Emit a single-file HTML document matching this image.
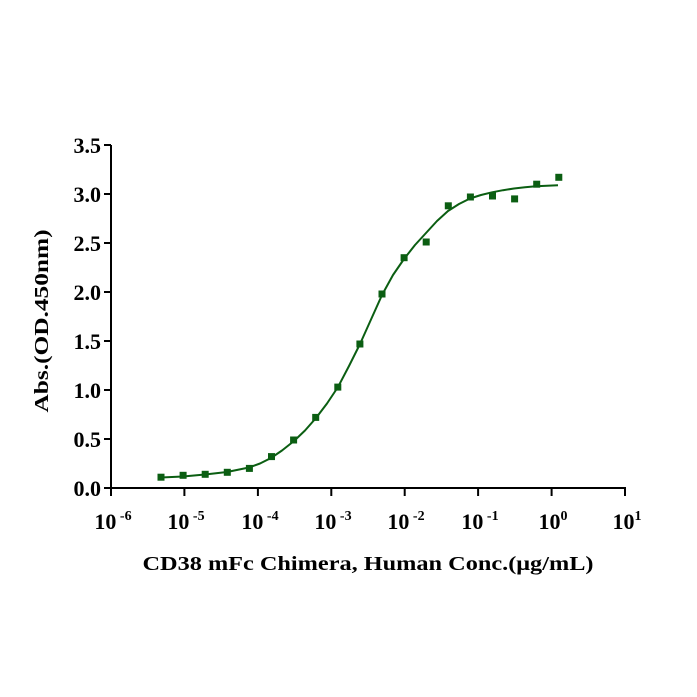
<!DOCTYPE html>
<html><head><meta charset="utf-8"><style>
html,body{margin:0;padding:0;background:#fff;}
svg{display:block;font-family:"Liberation Serif",serif;font-weight:bold;}
</style></head><body>
<svg width="697" height="697" viewBox="0 0 697 697" xmlns="http://www.w3.org/2000/svg">
<g stroke="#000" stroke-width="2" fill="none">
<line x1="111" y1="145" x2="111" y2="489"/>
<line x1="110" y1="488" x2="626" y2="488"/>
<line x1="104" y1="488" x2="111" y2="488"/>
<line x1="104" y1="439" x2="111" y2="439"/>
<line x1="104" y1="390" x2="111" y2="390"/>
<line x1="104" y1="341" x2="111" y2="341"/>
<line x1="104" y1="292" x2="111" y2="292"/>
<line x1="104" y1="243" x2="111" y2="243"/>
<line x1="104" y1="194" x2="111" y2="194"/>
<line x1="104" y1="145" x2="111" y2="145"/>
<line x1="111" y1="488" x2="111" y2="496"/>
<line x1="184.4" y1="488" x2="184.4" y2="496"/>
<line x1="257.9" y1="488" x2="257.9" y2="496"/>
<line x1="331.3" y1="488" x2="331.3" y2="496"/>
<line x1="404.7" y1="488" x2="404.7" y2="496"/>
<line x1="478.1" y1="488" x2="478.1" y2="496"/>
<line x1="551.6" y1="488" x2="551.6" y2="496"/>
<line x1="625" y1="488" x2="625" y2="496"/>
</g>
<g font-size="22" text-anchor="end">
<text x="101" y="496">0.0</text>
<text x="101" y="447">0.5</text>
<text x="101" y="398">1.0</text>
<text x="101" y="349">1.5</text>
<text x="101" y="300">2.0</text>
<text x="101" y="251">2.5</text>
<text x="101" y="202">3.0</text>
<text x="101" y="153">3.5</text>
</g>
<g font-size="22" text-anchor="middle">
<text x="113" y="529">10<tspan font-size="14" dy="-9"> -6</tspan></text>
<text x="186" y="529">10<tspan font-size="14" dy="-9"> -5</tspan></text>
<text x="260" y="529">10<tspan font-size="14" dy="-9"> -4</tspan></text>
<text x="333" y="529">10<tspan font-size="14" dy="-9"> -3</tspan></text>
<text x="406" y="529">10<tspan font-size="14" dy="-9"> -2</tspan></text>
<text x="480" y="529">10<tspan font-size="14" dy="-9"> -1</tspan></text>
<text x="553" y="529">10<tspan font-size="14" dy="-9">0</tspan></text>
<text x="627" y="529">10<tspan font-size="14" dy="-9">1</tspan></text>
</g>
<text x="368" y="570" font-size="20" text-anchor="middle" textLength="451" lengthAdjust="spacingAndGlyphs">CD38 mFc Chimera, Human Conc.(μg/mL)</text>
<text transform="translate(48,321) rotate(-90)" font-size="20" text-anchor="middle" textLength="183" lengthAdjust="spacingAndGlyphs">Abs.(OD.450nm)</text>
<polyline fill="none" stroke="#0b5e12" stroke-width="2" stroke-linejoin="round" points="161,477.5 183,476.5 205,474.5 227,472 249,467.5 260,463.5 271,458 282,450.5 294,441 305,430.5 316,418 327,403.5 338,387 349,366 360,344 371,319.5 382,295 393,275 404,259 415,245 426,233 437,221 448,211 459,204 470,198.5 481,195 492,192.3 503,190.2 514,188.5 525,187.3 536,186.3 547,185.7 558,185.2"/>
<g fill="#0b5e12">
<rect x="157.5" y="473.7" width="7" height="7"/>
<rect x="179.6" y="471.8" width="7" height="7"/>
<rect x="201.7" y="470.8" width="7" height="7"/>
<rect x="223.8" y="468.8" width="7" height="7"/>
<rect x="245.9" y="464.9" width="7" height="7"/>
<rect x="268" y="453.1" width="7" height="7"/>
<rect x="290.1" y="436.5" width="7" height="7"/>
<rect x="312.2" y="413.9" width="7" height="7"/>
<rect x="334.3" y="383.6" width="7" height="7"/>
<rect x="356.4" y="340.5" width="7" height="7"/>
<rect x="378.5" y="290.5" width="7" height="7"/>
<rect x="400.6" y="254.2" width="7" height="7"/>
<rect x="422.7" y="238.5" width="7" height="7"/>
<rect x="444.8" y="202.3" width="7" height="7"/>
<rect x="466.9" y="193.5" width="7" height="7"/>
<rect x="489" y="192.5" width="7" height="7"/>
<rect x="511.1" y="195.4" width="7" height="7"/>
<rect x="533.2" y="180.7" width="7" height="7"/>
<rect x="555.3" y="173.8" width="7" height="7"/>
</g>
</svg>
</body></html>
